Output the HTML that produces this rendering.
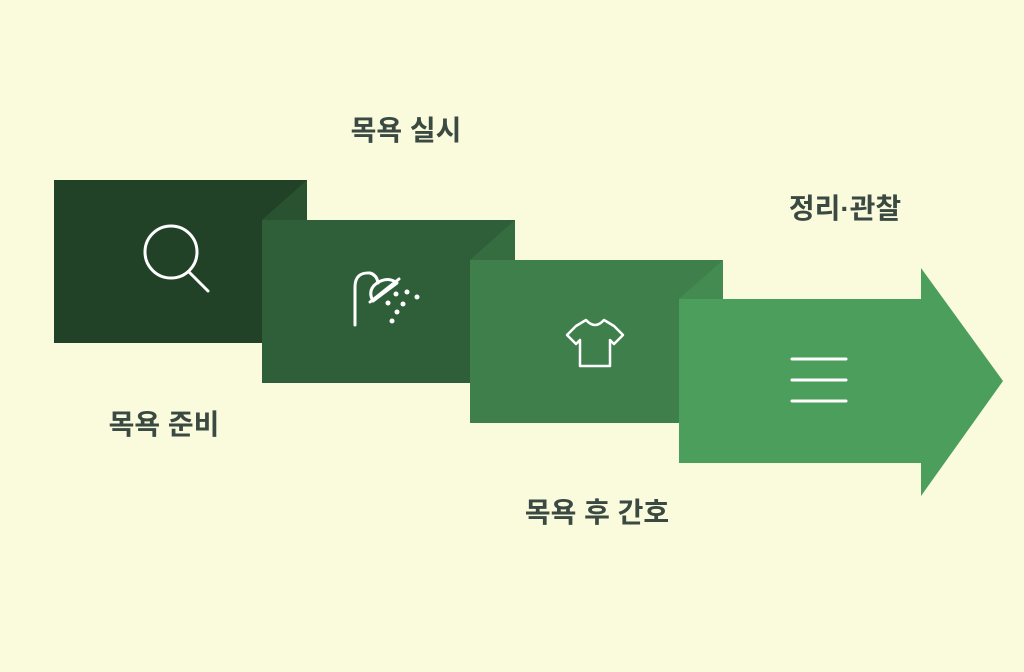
<!DOCTYPE html>
<html><head><meta charset="utf-8"><style>
html,body{margin:0;padding:0;background:#fafadc;}
svg{display:block}
text{font-family:"Liberation Sans","Noto Sans CJK KR","NanumGothic",sans-serif;font-weight:bold;font-size:28px;fill:#3a4a42;}
</style></head><body>
<svg width="1024" height="672" viewBox="0 0 1024 672">
<rect width="1024" height="672" fill="#fafadc"/>
<rect x="54" y="180" width="253" height="163" fill="#224228"/>
<polygon points="262,220 307,180 307,220" fill="#285230"/>
<rect x="262" y="220" width="253" height="163" fill="#2f5f39"/>
<polygon points="470,260 515,220 515,260" fill="#356d41"/>
<rect x="470" y="260" width="253" height="163" fill="#3f7f4c"/>
<polygon points="679,299 723,260 723,299" fill="#448b52"/>
<polygon points="679,299 921,299 921,268 1003,381 921,496 921,463 679,463" fill="#4c9e5c"/>
<g fill="none" stroke="#fff" stroke-width="3" stroke-linecap="round">
<circle cx="171" cy="252" r="26"/>
<line x1="189" y1="272" x2="208" y2="291"/>
<path d="M355,325 V287 Q355,272 370,273 Q377,275 378,283"/>
<path d="M373,301 Q367,290 377,283 Q388,276 397,283 Z" stroke-linejoin="round"/>
<line x1="370" y1="302" x2="399" y2="279"/>
<path d="M576,326 L567,335 L576,344 L580,340 V366 H610 V340 L614,344 L623,335 L614,326 L604,320 Q595,330 586,320 Z" stroke-width="2.5" stroke-linejoin="round"/>
<line x1="792" y1="359" x2="846" y2="359"/>
<line x1="792" y1="380" x2="846" y2="380"/>
<line x1="792" y1="401" x2="846" y2="401"/>
</g>
<g fill="#fff">
<circle cx="396" cy="294" r="2.5"/><circle cx="407" cy="292" r="2.5"/><circle cx="417" cy="297" r="2.5"/>
<circle cx="388" cy="303" r="2.5"/><circle cx="403" cy="304" r="2.5"/><circle cx="397" cy="312" r="2.5"/>
<circle cx="392" cy="321" r="2.5"/>
</g>
<text x="406" y="140" text-anchor="middle">목욕 실시</text>
<text x="164" y="434" text-anchor="middle">목욕 준비</text>
<text x="597" y="522" text-anchor="middle">목욕 후 간호</text>
<text x="845" y="218" text-anchor="middle">정리·관찰</text>
</svg>
</body></html>
